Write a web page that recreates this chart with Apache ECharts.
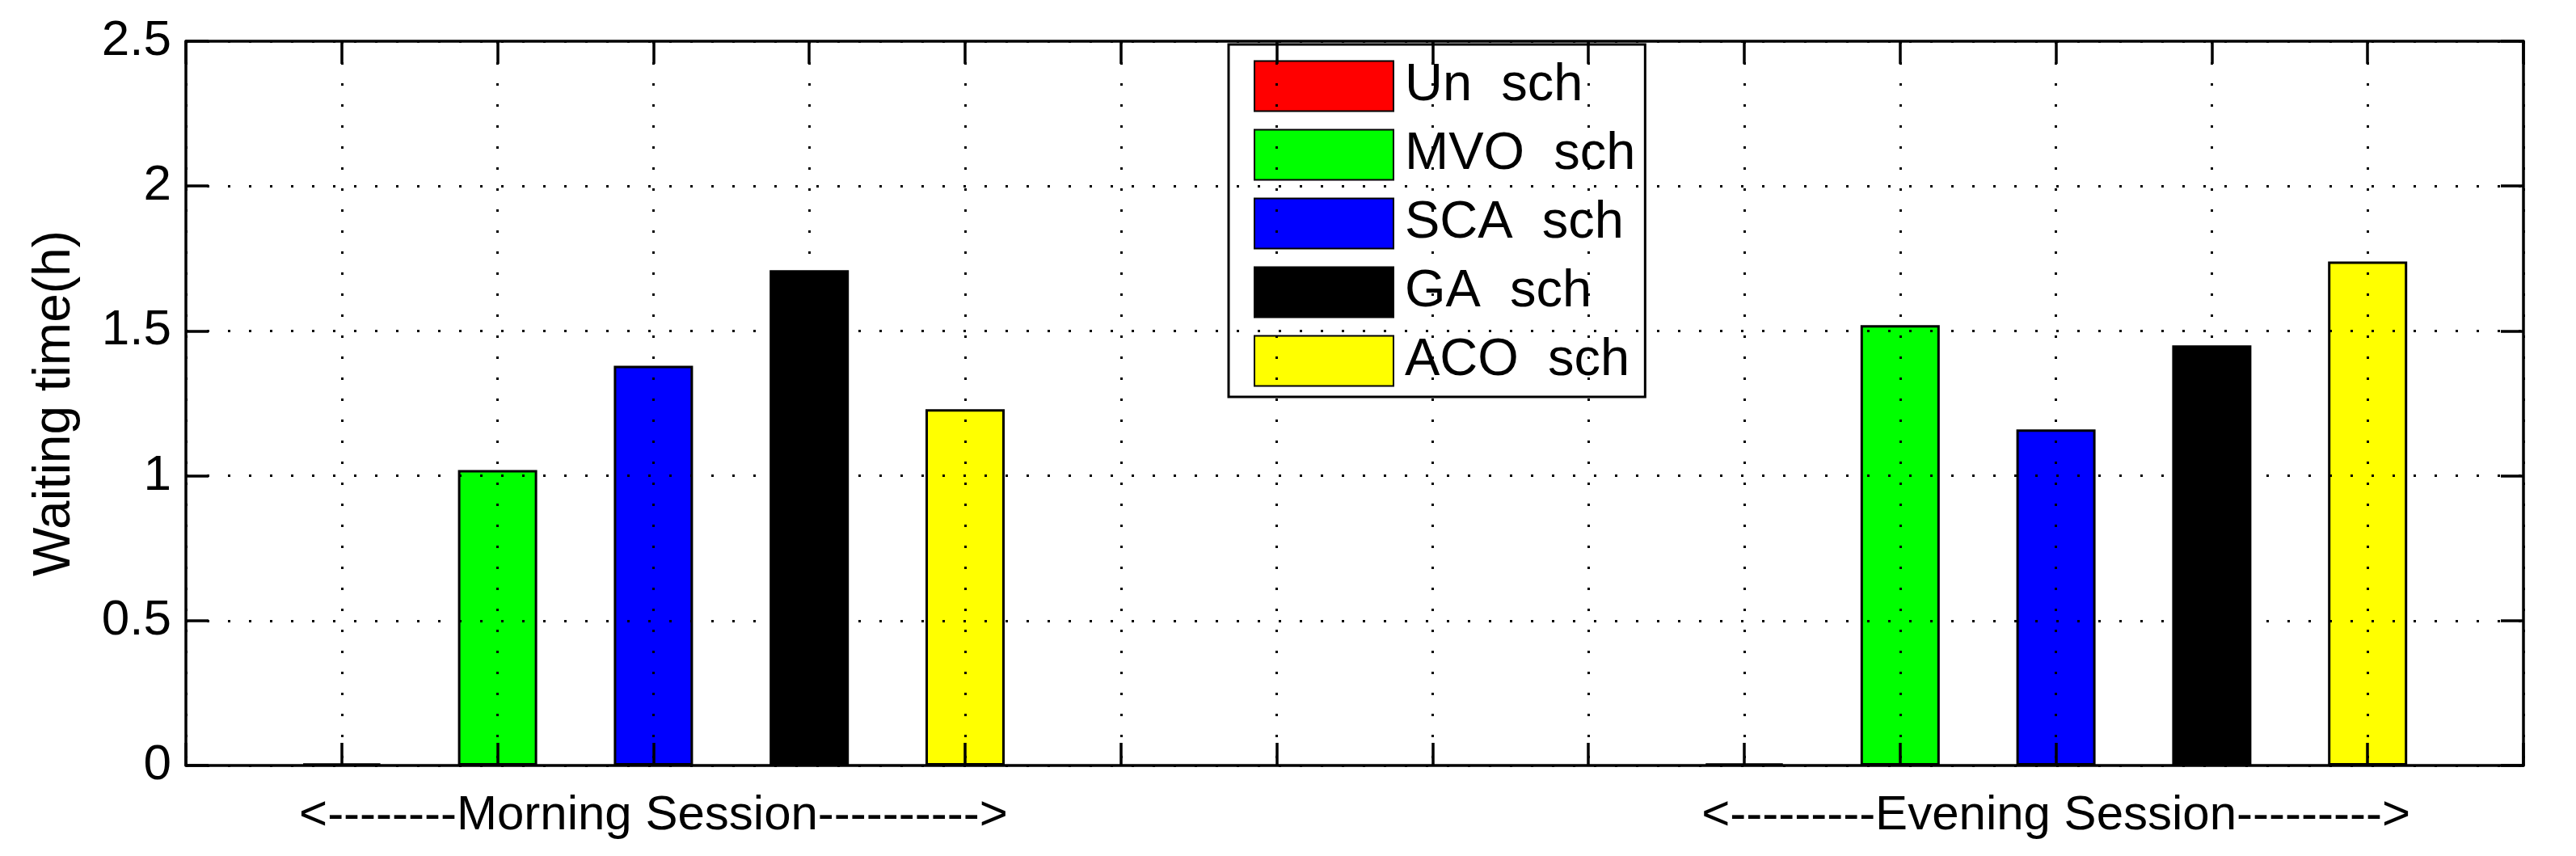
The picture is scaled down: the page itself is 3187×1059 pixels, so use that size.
<!DOCTYPE html>
<html>
<head>
<meta charset="utf-8">
<script src="https://cdn.jsdelivr.net/npm/echarts@6/dist/echarts.min.js"></script>
<style>
html,body{margin:0;padding:0;background:#fff;}
#chart{width:3187px;height:1059px;}
</style>
</head>
<body>
<div id="chart"></div>
<script>
// ---- data ----
const categories = ['Un  sch', 'MVO  sch', 'SCA  sch', 'GA  sch', 'ACO  sch'];
const colors = ['#ff0000', '#00ff00', '#0000ff', '#000000', '#ffff00'];
const morningPos = [1, 2, 3, 4, 5];
const eveningPos = [10, 11, 12, 13, 14];
const morningValues = [0.007, 1.02, 1.38, 1.71, 1.23];
const eveningValues = [0.007, 1.52, 1.16, 1.45, 1.74];
const sessionLabels = ['<--------Morning Session---------->', '<---------Evening Session--------->'];
const sessionPos = [3, 12];
const yTicks = [0, 0.5, 1, 1.5, 2, 2.5];
const yName = 'Waiting time(h)';

const FONT = "'Liberation Sans', Arial, Helvetica, sans-serif";
const chart = echarts.init(document.getElementById('chart'), null, {renderer: 'canvas'});

const TICK = 28;
const dotted = {color: '#000', width: 3, type: [3, 23]};
const axisLineStyle = {color: '#000', width: 3.5};
const noTick = {show: false};
const tickOnly = {show: true, length: TICK, lineStyle: {color: '#000', width: 3.5}};

const yMin = yTicks[0], yMax = yTicks[yTicks.length - 1];

// axes that draw the box edges
function xLine(pos, extra) {
  return Object.assign({
    type: 'value', position: pos, min: 0, max: 15, interval: 1, z: 10,
    axisLine: {show: true, onZero: false, lineStyle: axisLineStyle},
    axisTick: noTick, splitLine: {show: false}, axisLabel: {show: false}
  }, extra || {});
}
// axes shifted inside the plot by the tick length: their outward ticks read as inward ticks
function xTicks(pos) {
  return {
    type: 'value', position: pos, offset: -TICK, min: 0, max: 15, interval: 1, z: 10,
    axisLine: {show: false, onZero: false}, axisTick: tickOnly,
    splitLine: {show: false}, axisLabel: {show: false}
  };
}
function yLine(pos, extra) {
  return Object.assign({
    type: 'value', position: pos, min: yMin, max: yMax, interval: 0.5, z: 10,
    axisLine: {show: true, onZero: false, lineStyle: axisLineStyle},
    axisTick: noTick, splitLine: {show: false}, axisLabel: {show: false}
  }, extra || {});
}
function yTickAxis(pos) {
  return {
    type: 'value', position: pos, offset: -TICK, min: yMin, max: yMax, interval: 0.5, z: 10,
    axisLine: {show: false, onZero: false}, axisTick: tickOnly,
    splitLine: {show: false}, axisLabel: {show: false}
  };
}

const series = categories.map((name, i) => ({
  type: 'bar',
  name: name,
  xAxisIndex: 0,
  yAxisIndex: 0,
  data: [[morningPos[i], morningValues[i]], [eveningPos[i], eveningValues[i]]],
  barWidth: 98,
  barGap: '-100%',
  itemStyle: {color: colors[i], borderColor: '#000', borderWidth: 3},
  emphasis: {disabled: true}
}));

const option = {
  animation: false,
  backgroundColor: '#fff',
  textStyle: {fontFamily: FONT},
  grid: {left: 230, right: 65, top: 51, bottom: 112, containLabel: false},
  legend: {
    orient: 'vertical',
    left: 1520,
    top: 55,
    itemWidth: 172,
    itemHeight: 62,
    itemGap: 20,
    padding: [19, 12, 12, 31],
    borderColor: '#000',
    borderWidth: 3,
    icon: 'rect',
    selectedMode: false,
    textStyle: {fontSize: 65, lineHeight: 62, color: '#000', fontFamily: FONT, padding: [0, 0, 0, 9]},
    data: categories
  },
  xAxis: [
    xLine('bottom', {
      splitLine: {show: true, lineStyle: dotted},
      axisLabel: {
        show: true, fontSize: 60, color: '#000', fontFamily: FONT, margin: 32,
        showMinLabel: true, showMaxLabel: true,
        formatter: v => { const k = sessionPos.indexOf(v); return k >= 0 ? sessionLabels[k] : ''; }
      }
    }),
    xLine('top'),
    xTicks('bottom'),
    xTicks('top')
  ],
  yAxis: [
    yLine('left', {
      splitLine: {show: true, lineStyle: dotted},
      axisLabel: {show: true, fontSize: 62, color: '#000', fontFamily: FONT, margin: 18},
      name: yName,
      nameLocation: 'middle',
      nameGap: 130,
      nameTextStyle: {fontSize: 64, color: '#000', fontFamily: FONT}
    }),
    yLine('right'),
    yTickAxis('left'),
    yTickAxis('right')
  ],
  series: series
};
chart.setOption(option);
</script>
</body>
</html>
